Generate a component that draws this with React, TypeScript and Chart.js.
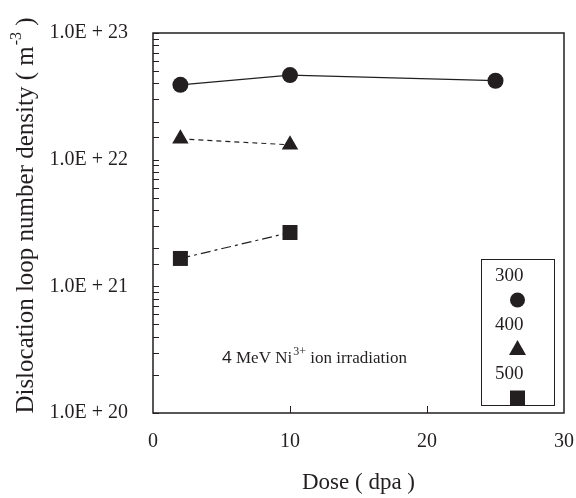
import React, { useEffect, useRef } from "react";
import { Chart, registerables } from "chart.js";

Chart.register(...registerables);

// ---- data ----
const doseValues = [2, 10, 25];
const temperatureLabels = ["300", "400", "500"];
const density300 = [3.9e22, 4.65e22, 4.2e22];
const density400 = [1.46e22, 1.31e22];
const density500 = [1.66e21, 2.66e21];
const xTickValues = [0, 10, 20, 30];
const yMin = 1e20;
const yMax = 1e23;
const xTitle = "Dose ( dpa )";
const yTitleMain = "Dislocation loop number density ( m";
const yTitleSup = "-3";
const yTitleEnd = " )";
const noteLead = "4";
const noteMid = " MeV Ni";
const noteSup = "3+";
const noteEnd = " ion irradiation";

const INK = "#231f20";
const SERIF = "'Liberation Serif', 'DejaVu Serif', serif";
const SANS = "'Noto Sans', 'DejaVu Sans', sans-serif";

const pts = (ys: number[]) => ys.map((y, i) => ({ x: doseValues[i], y }));

const decorPlugin = {
  id: "decor",
  afterDraw(chart: any) {
    const { ctx, chartArea: a, scales } = chart;
    ctx.save();
    ctx.strokeStyle = INK;
    ctx.fillStyle = INK;

    // frame
    ctx.lineWidth = 1.5;
    ctx.strokeRect(a.left, a.top, a.right - a.left, a.bottom - a.top);

    // inward y ticks
    ctx.lineWidth = 1;
    const ys = scales.y;
    ys.ticks.forEach((t: any) => {
      const p = Math.round(ys.getPixelForValue(t.value)) + 0.5;
      ctx.beginPath();
      ctx.moveTo(a.left, p);
      ctx.lineTo(a.left + 6, p);
      ctx.stroke();
    });
    // inward x ticks
    const xs = scales.x;
    xs.ticks.forEach((t: any) => {
      if (t.value <= xs.min || t.value >= xs.max) return;
      const p = Math.round(xs.getPixelForValue(t.value)) + 0.5;
      ctx.beginPath();
      ctx.moveTo(p, a.bottom);
      ctx.lineTo(p, a.bottom - 7);
      ctx.stroke();
    });

    // y title (rotated, with superscript)
    ctx.save();
    ctx.translate(26, (a.top + a.bottom) / 2 - 7);
    ctx.rotate(-Math.PI / 2);
    ctx.textBaseline = "middle";
    ctx.textAlign = "left";
    const fMain = `25px ${SERIF}`;
    const fSup = `16px ${SERIF}`;
    ctx.font = fMain;
    const w1 = ctx.measureText(yTitleMain).width;
    const w3 = ctx.measureText(yTitleEnd).width;
    ctx.font = fSup;
    const w2 = ctx.measureText(yTitleSup).width;
    let x0 = -(w1 + w2 + w3) / 2;
    ctx.font = fMain;
    ctx.fillText(yTitleMain, x0, 0);
    x0 += w1;
    ctx.font = fSup;
    ctx.fillText(yTitleSup, x0 + 1, -9);
    x0 += w2 + 1;
    ctx.font = fMain;
    ctx.fillText(yTitleEnd, x0, 0);
    ctx.restore();

    // annotation
    ctx.textBaseline = "alphabetic";
    ctx.textAlign = "left";
    let nx = a.left + 69;
    const ny = a.bottom - 50;
    ctx.font = `17px ${SANS}`;
    ctx.fillText(noteLead, nx, ny);
    nx += ctx.measureText(noteLead).width;
    ctx.font = `17px ${SERIF}`;
    ctx.fillText(noteMid, nx, ny);
    nx += ctx.measureText(noteMid).width;
    ctx.font = `12px ${SERIF}`;
    ctx.fillText(noteSup, nx + 1, ny - 8);
    nx += ctx.measureText(noteSup).width + 1;
    ctx.font = `17px ${SERIF}`;
    ctx.fillText(noteEnd, nx, ny);

    // legend box
    const bl = a.right - 83;
    const br = a.right - 10;
    const bt = a.bottom - 154;
    const bb = a.bottom - 8;
    ctx.lineWidth = 1;
    ctx.strokeRect(bl + 0.5, bt + 0.5, br - bl, bb - bt);
    const cx = (bl + br) / 2;
    ctx.font = `19px ${SERIF}`;
    ctx.textBaseline = "middle";
    temperatureLabels.forEach((lab, i) => {
      const ty = bt + 17 + i * 49;
      ctx.fillStyle = INK;
      ctx.fillText(lab, bl + 14, ty);
      const my = ty + 24;
      ctx.beginPath();
      if (i === 0) {
        ctx.arc(cx, my, 7.5, 0, Math.PI * 2);
      } else if (i === 1) {
        ctx.moveTo(cx, my - 9);
        ctx.lineTo(cx + 8.5, my + 6);
        ctx.lineTo(cx - 8.5, my + 6);
        ctx.closePath();
      } else {
        ctx.rect(cx - 7.5, my - 7.5, 15, 15);
      }
      ctx.fill();
    });
    ctx.restore();
  },
};

export default function App() {
  const ref = useRef<HTMLCanvasElement | null>(null);
  useEffect(() => {
    if (!ref.current) return;
    const common = {
      borderColor: INK,
      backgroundColor: INK,
      pointBackgroundColor: INK,
      pointBorderColor: INK,
      borderWidth: 1.2,
      pointBorderWidth: 0,
      showLine: true,
      fill: false,
      tension: 0,
    };
    const chart = new Chart(ref.current, {
      type: "scatter",
      data: {
        datasets: [
          {
            ...common,
            label: temperatureLabels[0],
            data: pts(density300),
            pointStyle: "circle",
            pointRadius: 8,
          },
          {
            ...common,
            label: temperatureLabels[1],
            data: pts(density400),
            pointStyle: "triangle",
            pointRadius: 9.5,
            borderDash: [5, 4],
          },
          {
            ...common,
            label: temperatureLabels[2],
            data: pts(density500),
            pointStyle: "rect",
            pointRadius: 10.6,
            borderDash: [10, 4, 3, 4],
          },
        ],
      },
      options: {
        animation: false,
        responsive: false,
        devicePixelRatio: 1,
        layout: { padding: { top: 33, right: 12, left: 0, bottom: 0 } },
        plugins: {
          legend: { display: false },
          tooltip: { enabled: false },
        },
        scales: {
          x: {
            type: "linear",
            min: xTickValues[0],
            max: xTickValues[xTickValues.length - 1],
            afterBuildTicks: (s: any) => {
              s.ticks = xTickValues.map((v) => ({ value: v }));
            },
            grid: { display: false, drawTicks: false },
            border: { display: false },
            ticks: {
              color: INK,
              padding: 17,
              font: { family: SERIF, size: 20 },
              maxRotation: 0,
            },
            title: {
              display: true,
              text: xTitle,
              color: INK,
              font: { family: SERIF, size: 23, lineHeight: 1.2 },
              padding: { top: 0, bottom: 1 },
            },
            afterFit: (s: any) => {
              s.height = 85;
              s.paddingLeft = 0;
              s.paddingRight = 0;
            },
          },
          y: {
            type: "logarithmic",
            min: yMin,
            max: yMax,
            grid: { display: false, drawTicks: false },
            border: { display: false },
            ticks: {
              color: INK,
              padding: 25,
              autoSkip: false,
              font: { family: SERIF, size: 20 },
              callback: (v: any) => {
                const e = Math.log10(Number(v));
                if (Math.abs(e - Math.round(e)) > 1e-9) return "";
                return `1.0E + ${Math.round(e)}`;
              },
            },
            afterFit: (s: any) => {
              s.width = 153;
              s.paddingTop = 0;
              s.paddingBottom = 0;
            },
          },
        },
      },
      plugins: [decorPlugin],
    } as any);
    return () => chart.destroy();
  }, []);
  return (
    <div style={{ position: "absolute", left: 0, top: 0, width: 576, height: 498, background: "#fff" }}>
      <canvas ref={ref} width={576} height={498} />
    </div>
  );
}
